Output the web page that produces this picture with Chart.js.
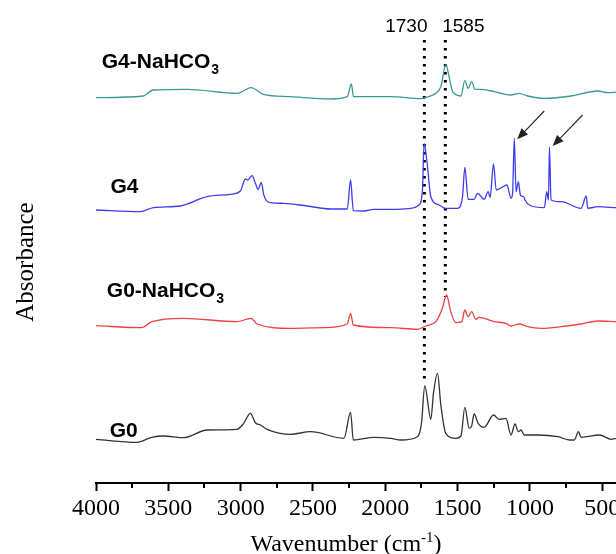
<!DOCTYPE html>
<html>
<head>
<meta charset="utf-8">
<script src="https://cdn.jsdelivr.net/npm/chart.js@4.4.1/dist/chart.umd.min.js"></script>
<style>
html,body{margin:0;padding:0;background:#fff;}
#wrap{width:616px;height:554px;}
</style>
</head>
<body>
<div id="wrap"><canvas id="c" width="616" height="554"></canvas></div>
<script>
// ---- data (wavenumber cm^-1, absorbance offset, arbitrary units) ----
const seriesNames = ["G4-NaHCO3", "G4", "G0-NaHCO3", "G0"];

const g4NaWn = [4000,3674,3605,3369,3023,2928,2843,2656,2378,2263,2235,2219,1963,1755,1720,1651,1616,1581,1559,1535,1477,1450,1427,1403,1380,1339,1247,1131,1073,1016,900,715,530,461,405];
const g4NaAbs = [3.853,3.87,3.93,3.937,3.897,3.953,3.887,3.863,3.84,3.863,3.99,3.863,3.863,3.843,3.857,3.897,3.963,4.187,4.063,3.913,3.87,4.023,3.947,4.013,3.937,3.937,3.913,3.88,3.897,3.87,3.847,3.87,3.92,3.903,3.907];

const g4Wn = [4000,3695,3603,3418,3233,3071,3002,2967,2951,2921,2898,2879,2857,2840,2794,2702,2540,2378,2263,2240,2221,2148,2078,1963,1940,1824,1767,1743,1732,1713,1685,1628,1582,1501,1466,1450,1427,1386,1362,1316,1289,1275,1252,1233,1178,1159,1131,1120,1108,1096,1080,1066,1043,1034,1004,900,884,872,865,854,785,646,611,600,530,405];
const g4Abs = [2.73,2.713,2.753,2.77,2.863,2.887,2.92,3.04,3.03,3.073,2.997,2.937,3.007,2.88,2.803,2.797,2.77,2.74,2.74,3.03,2.723,2.72,2.737,2.737,2.737,2.747,2.78,2.93,3.397,3.23,2.863,2.78,2.747,2.747,2.863,3.157,2.837,2.837,2.897,2.837,2.913,2.857,3.19,2.93,2.97,2.98,2.847,2.897,3.447,2.913,3.013,2.88,2.863,2.83,2.78,2.753,2.913,2.83,3.357,2.83,2.813,2.747,2.87,2.747,2.763,2.753];

const g0NaWn = [4000,3684,3614,3395,3025,2928,2887,2656,2425,2263,2240,2221,1963,1778,1720,1651,1605,1577,1547,1512,1471,1450,1427,1403,1374,1351,1247,1166,1131,1073,1016,923,785,646,530,405];
const g0NaAbs = [1.573,1.553,1.613,1.647,1.613,1.647,1.59,1.547,1.553,1.59,1.697,1.58,1.553,1.537,1.57,1.613,1.747,1.88,1.713,1.603,1.613,1.73,1.663,1.713,1.637,1.657,1.613,1.597,1.57,1.59,1.563,1.547,1.563,1.59,1.62,1.613];

const g0Wn = [4000,3718,3614,3534,3395,3233,3025,2979,2933,2898,2863,2817,2656,2517,2286,2240,2221,2078,1963,1893,1778,1750,1727,1685,1667,1639,1616,1582,1512,1477,1450,1420,1403,1386,1358,1316,1252,1213,1166,1131,1103,1080,1062,1039,946,807,727,693,665,646,519,438,405];
const g0Abs = [0.437,0.407,0.457,0.47,0.453,0.53,0.537,0.597,0.697,0.603,0.58,0.537,0.487,0.513,0.447,0.707,0.43,0.457,0.447,0.43,0.463,0.597,0.97,0.637,0.897,1.097,0.78,0.497,0.447,0.47,0.757,0.547,0.57,0.69,0.597,0.557,0.68,0.637,0.647,0.48,0.59,0.513,0.53,0.48,0.48,0.463,0.43,0.43,0.513,0.457,0.48,0.437,0.447];

// marker lines (wavenumber) and their vertical extent (absorbance units)
const markWn = [1730, 1585];
const markTop = [4.43, 4.43];
const markBottom = [1.0, 1.86];
const markLabels = ["1730", "1585"];

// arrows: [tailWn, tailAbs, tipWn, tipAbs]
const arrowTailWn = [901, 636];
const arrowTailAbs = [3.72, 3.68];
const arrowTipWn = [1088, 843];
const arrowTipAbs = [3.437, 3.37];

// label anchor positions for series labels (wavenumber, absorbance)
const labelWn = [3960, 3900, 3925, 3905];
const labelAbs = [4.15, 2.90, 1.86, 0.46];

const xTickValues = [4000,3500,3000,2500,2000,1500,1000,500];

// ---- build ----
function pts(xs, ys){ return xs.map((x,i)=>({x:x, y:ys[i]})); }
const colors = ["#3a9990", "#3c3cf0", "#f04040", "#333333"];
const spectra = [[g4NaWn,g4NaAbs],[g4Wn,g4Abs],[g0NaWn,g0NaAbs],[g0Wn,g0Abs]];

const datasets = spectra.map((s,i)=>({
  label: seriesNames[i],
  data: pts(s[0], s[1]),
  borderColor: colors[i],
  borderWidth: 1.3,
  pointRadius: 0,
  fill: false,
  cubicInterpolationMode: 'monotone'
}));
markWn.forEach((w,i)=>{
  datasets.push({
    label: 'mark'+markLabels[i],
    data: [{x:w,y:markTop[i]},{x:w,y:markBottom[i]}],
    borderColor: '#000',
    borderWidth: 3,
    borderDash: [2.5,5.5],
    pointRadius: 0,
    fill: false
  });
});

const annot = {
  id: 'annot',
  afterDraw(chart){
    const ctx = chart.ctx, xs = chart.scales.x, ys = chart.scales.y;
    ctx.save();
    // minor ticks
    ctx.strokeStyle = '#000'; ctx.lineWidth = 2;
    for (let w = 3750; w >= 405; w -= 500){
      const px = Math.round(xs.getPixelForValue(w));
      ctx.beginPath(); ctx.moveTo(px, ys.bottom); ctx.lineTo(px, ys.bottom+5); ctx.stroke();
    }
    // series labels
    ctx.fillStyle = '#000';
    ctx.textBaseline = 'alphabetic';
    seriesNames.forEach((n,i)=>{
      let x = xs.getPixelForValue(labelWn[i]);
      const y = ys.getPixelForValue(labelAbs[i]);
      ctx.font = 'bold 21px "Liberation Sans", Arial, sans-serif';
      ctx.textAlign = 'left';
      if (n.endsWith('3')){
        const main = n.slice(0,-1);
        ctx.fillText(main, x, y);
        const w = ctx.measureText(main).width;
        ctx.font = 'bold 14px "Liberation Sans", Arial, sans-serif';
        ctx.fillText('3', x + w + 1, y + 6);
      } else {
        ctx.fillText(n, x, y);
      }
    });
    // marker labels
    ctx.font = '19px "Liberation Sans", Arial, sans-serif';
    ctx.textAlign = 'center';
    const off = [-18, 18];
    markWn.forEach((w,i)=>{
      ctx.fillText(markLabels[i], xs.getPixelForValue(w) + off[i], 32);
    });
    // arrows
    ctx.strokeStyle = '#222'; ctx.fillStyle = '#222'; ctx.lineWidth = 1.1;
    arrowTipWn.forEach((w,i)=>{
      const x1 = xs.getPixelForValue(arrowTailWn[i]), y1 = ys.getPixelForValue(arrowTailAbs[i]);
      const x2 = xs.getPixelForValue(w), y2 = ys.getPixelForValue(arrowTipAbs[i]);
      const a = Math.atan2(y2-y1, x2-x1), L = 11, H = 4.5;
      const bx = x2 - L*Math.cos(a), by = y2 - L*Math.sin(a);
      ctx.beginPath(); ctx.moveTo(x1,y1); ctx.lineTo(bx,by); ctx.stroke();
      ctx.beginPath();
      ctx.moveTo(x2,y2);
      ctx.lineTo(bx + H*Math.sin(a), by - H*Math.cos(a));
      ctx.lineTo(bx - H*Math.sin(a), by + H*Math.cos(a));
      ctx.closePath(); ctx.fill();
    });
    // axis titles
    ctx.fillStyle = '#000';
    ctx.font = '24px "Liberation Serif", "Times New Roman", serif';
    ctx.textAlign = 'left';
    const t1 = 'Wavenumber (cm', t2 = '-1', t3 = ')';
    const w1 = ctx.measureText(t1).width, w3 = ctx.measureText(t3).width;
    ctx.font = '15px "Liberation Serif", "Times New Roman", serif';
    const w2 = ctx.measureText(t2).width;
    const total = w1 + w2 + w3;
    const cx = (xs.left + xs.right)/2 - 10;
    let sx = cx - total/2, by0 = 551;
    ctx.font = '24px "Liberation Serif", "Times New Roman", serif';
    ctx.fillText(t1, sx, by0);
    ctx.font = '15px "Liberation Serif", "Times New Roman", serif';
    ctx.fillText(t2, sx + w1, by0 - 9);
    ctx.font = '24px "Liberation Serif", "Times New Roman", serif';
    ctx.fillText(t3, sx + w1 + w2, by0);
    // y title
    ctx.save();
    ctx.translate(33, 262);
    ctx.rotate(-Math.PI/2);
    ctx.textAlign = 'center';
    ctx.textBaseline = 'alphabetic';
    ctx.font = '25px "Liberation Serif", "Times New Roman", serif';
    ctx.fillText('Absorbance', 0, 0);
    ctx.restore();
    ctx.restore();
  }
};

new Chart(document.getElementById('c'), {
  type: 'line',
  data: { datasets },
  options: {
    responsive: false,
    devicePixelRatio: 1,
    animation: false,
    layout: { padding: 0 },
    plugins: { legend: { display: false }, tooltip: { enabled: false } },
    scales: {
      x: {
        type: 'linear',
        reverse: true,
        min: 405, max: 4000,
        afterBuildTicks(s){ s.ticks = xTickValues.map(v=>({value:v})); },
        afterFit(s){ s.height = 71; s.paddingLeft = 0; s.paddingRight = 0; },
        ticks: {
          autoSkip: false, maxRotation: 0, padding: 3,
          color: '#000',
          font: { family: '"Liberation Serif", "Times New Roman", serif', size: 24 },
          callback: v => String(v)
        },
        grid: { drawOnChartArea: false, drawTicks: true, tickLength: 8, tickColor: '#000', tickWidth: 2 },
        border: { display: true, color: '#000', width: 2 }
      },
      y: {
        min: 0, max: 4.83,
        afterFit(s){ s.width = 96; s.paddingTop = 0; s.paddingBottom = 0; },
        ticks: { display: false },
        grid: { display: false },
        border: { display: false }
      }
    }
  },
  plugins: [annot]
});
</script>
</body>
</html>
